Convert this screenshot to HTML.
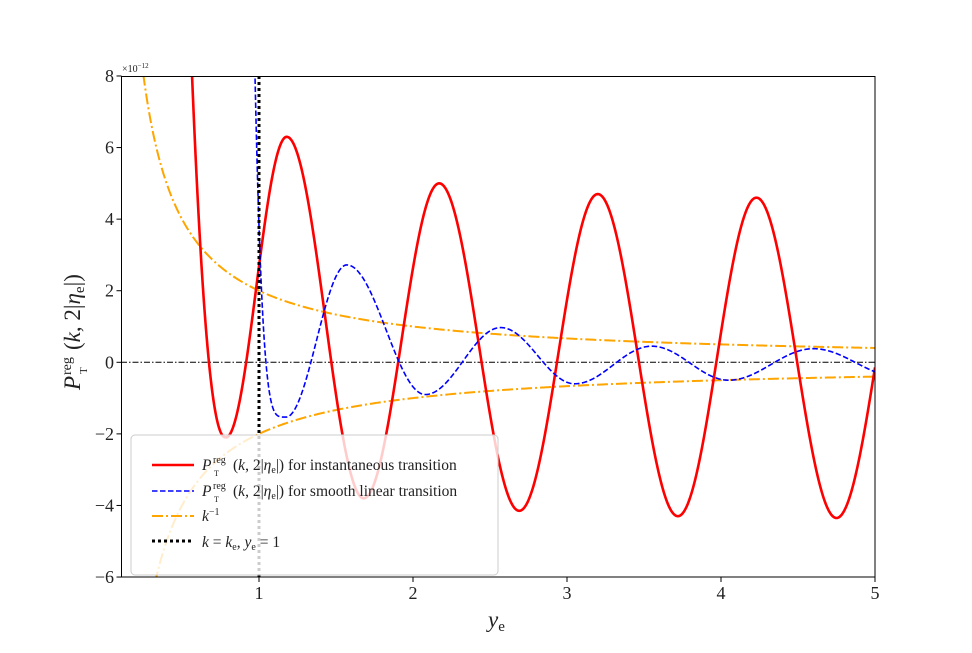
<!DOCTYPE html>
<html><head><meta charset="utf-8"><style>
body{margin:0;background:#fff;}
svg text{font-family:"Liberation Serif","DejaVu Serif",serif;fill:#222;}
</style></head><body>
<svg id="s" width="972" height="648" xmlns="http://www.w3.org/2000/svg">
<defs><clipPath id="c"><rect x="121.5" y="76.5" width="753.5" height="500.5"/></clipPath></defs>
<rect width="972" height="648" fill="#fff"/>
<g clip-path="url(#c)">
<line x1="121" y1="362.3" x2="875" y2="362.3" stroke="#000" stroke-width="1" stroke-dasharray="6,2,1.5,2"/>
<path id="o1" fill="none" stroke="#FFA500" stroke-width="2" stroke-dasharray="11,3,2,3"/>
<path id="o2" fill="none" stroke="#FFA500" stroke-width="2" stroke-dasharray="11,3,2,3"/>
<path id="r" fill="none" stroke="#FF0000" stroke-width="2.6"/>
<path id="b" fill="none" stroke="#0000FF" stroke-width="1.6" stroke-dasharray="5.5,2.5"/>
<line x1="259" y1="76" x2="259" y2="577" stroke="#000" stroke-width="3" stroke-dasharray="3,3"/>
</g>
<rect x="131" y="435" width="367" height="140" rx="4" fill="#fff" fill-opacity="0.8" stroke="#ccc" stroke-width="1"/>
<line x1="152" y1="465" x2="194" y2="465" stroke="#f00" stroke-width="2.6"/>
<line x1="152" y1="491" x2="194" y2="491" stroke="#00f" stroke-width="1.6" stroke-dasharray="5.5,2.5"/>
<line x1="152" y1="516" x2="194" y2="516" stroke="#FFA500" stroke-width="2" stroke-dasharray="11,3,2,3"/>
<line x1="152" y1="541" x2="194" y2="541" stroke="#000" stroke-width="3" stroke-dasharray="3,3"/>
<g font-size="15.5">
<text x="202" y="470" font-style="italic">P</text><text x="213" y="463" font-size="10">reg</text><text x="214" y="476" font-size="8">T</text>
<text x="233" y="470">(<tspan font-style="italic">k</tspan>, 2|<tspan font-style="italic">η</tspan><tspan font-size="10" dy="3">e</tspan><tspan dy="-3">|) for instantaneous transition</tspan></text>
<text x="202" y="496" font-style="italic">P</text><text x="213" y="489" font-size="10">reg</text><text x="214" y="502" font-size="8">T</text>
<text x="233" y="496">(<tspan font-style="italic">k</tspan>, 2|<tspan font-style="italic">η</tspan><tspan font-size="10" dy="3">e</tspan><tspan dy="-3">|) for smooth linear transition</tspan></text>
<text x="202" y="521"><tspan font-style="italic">k</tspan><tspan font-size="10" dy="-6">−1</tspan></text>
<text x="202" y="547"><tspan font-style="italic">k</tspan> = <tspan font-style="italic">k</tspan><tspan font-size="10" dy="3">e</tspan><tspan dy="-3">, </tspan><tspan font-style="italic">y</tspan><tspan font-size="10" dy="3">e</tspan><tspan dy="-3"> = 1</tspan></text>
</g>
<rect x="121.5" y="76.5" width="753.5" height="500.5" fill="none" stroke="#000" stroke-width="1"/>
<g id="ticks" stroke="#000" stroke-width="1"></g>
<g id="lbl" font-size="18"></g>
<text x="122" y="72" font-size="10">×10<tspan font-size="7" dy="-4">−12</tspan></text>
<text x="488" y="627" font-size="23" font-style="italic">y<tspan font-size="15" dy="4" font-style="normal">e</tspan></text>
<g transform="translate(80,390) rotate(-90)" font-size="23">
<text x="0" y="0" font-style="italic">P</text><text x="15" y="-9" font-size="14">reg</text><text x="16" y="7" font-size="11">T</text>
<text x="40" y="0">(<tspan font-style="italic">k</tspan>, 2|<tspan font-style="italic">η</tspan><tspan font-size="15" dy="4">e</tspan><tspan dy="-4">|)</tspan></text>
</g>
</svg>
<script>
var X=function(x){return 259+(x-1)*154},Y=function(y){return 362.3-y*35.79};
function path(f,a,b,n){var d="";for(var i=0;i<=n;i++){var x=a+(b-a)*i/n,y=f(x);if(y>40)y=40;if(y<-40)y=-40;d+=(i?"L":"M")+X(x).toFixed(2)+","+Y(y).toFixed(2);}return d;}
function cosi(ex){return function(x){for(var i=0;i<ex.length-1;i++){if(x<=ex[i+1][0]){var t=(x-ex[i][0])/(ex[i+1][0]-ex[i][0]);var f=(1-Math.cos(Math.PI*t))/2;return ex[i][1]+(ex[i+1][1]-ex[i][1])*f;}}return ex[ex.length-1][1];}}
var rex=[[0.785,-2.1],[1.18,6.3],[1.68,-3.8],[2.17,5.0],[2.69,-4.15],[3.2,4.7],[3.72,-4.3],[4.23,4.6],[4.75,-4.35],[5.27,4.6]];
var rf=cosi(rex);
function red(x){if(x<0.785)return -2.1+315*Math.pow(0.785-x,2.27);return rf(x);}
var bex=[[1.175,-1.53],[1.57,2.72],[2.08,-0.9],[2.57,0.97],[3.05,-0.6],[3.55,0.45],[4.05,-0.5],[4.6,0.38],[5.15,-0.4]];
var bf=cosi(bex);
function blue(x){if(x<1.175)return -1.53+8060*Math.pow(1.175-x,4.2);return bf(x);}
document.getElementById("r").setAttribute("d",path(red,0.5,5,900));
document.getElementById("b").setAttribute("d",path(blue,0.94,5,900));
document.getElementById("o1").setAttribute("d",path(function(x){return 2/x},0.22,5,500));
document.getElementById("o2").setAttribute("d",path(function(x){return -2/x},0.3,5,500));
var tk=document.getElementById("ticks"),lb=document.getElementById("lbl"),ns="http://www.w3.org/2000/svg";
function el(p,n,a,t){var e=document.createElementNS(ns,n);for(var k in a)e.setAttribute(k,a[k]);if(t)e.textContent=t;p.appendChild(e);}
for(var i=1;i<=5;i++){el(tk,"line",{x1:X(i),x2:X(i),y1:577,y2:582});el(lb,"text",{x:X(i),y:599,"text-anchor":"middle"},""+i);}
for(var v=-6;v<=8;v+=2){el(tk,"line",{x1:116.5,x2:121.5,y1:Y(v),y2:Y(v)});el(lb,"text",{x:114,y:Y(v)+6,"text-anchor":"end"},(v<0?"−":"")+Math.abs(v));}
</script>
</body></html>
